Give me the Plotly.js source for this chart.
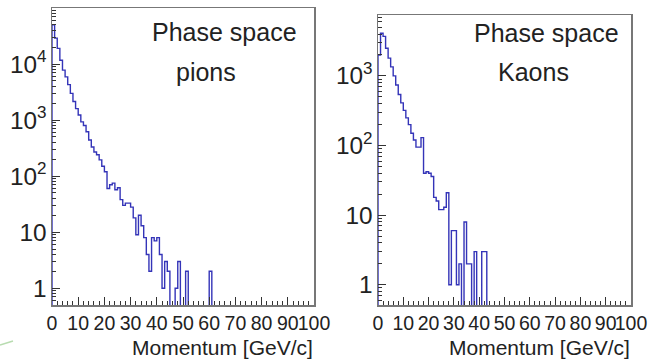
<!DOCTYPE html>
<html>
<head>
<meta charset="utf-8">
<script src="https://cdn.plot.ly/plotly-3.0.1.min.js"></script>
<style>html,body{margin:0;padding:0;background:#fff;}#chart{width:650px;height:361px;}</style>
</head>
<body>
<div id="chart"></div>
<script>
// Bin width 1 GeV/c, bins start at 0
var binWidth = 1;
var pionCounts = [50000, 29000, 19000, 11700, 7800, 5900, 4300, 3000, 2150, 1600,
  1230, 930, 800, 620, 440, 330, 270, 240, 195, 150,
  120, 60, 70, 75, 57, 62, 38, 30, 33, 33,
  28, 18, 9, 20, 13, 8, 4, 2, 8, 7,
  8, 4, 1, 3, 2, 0, 0, 1, 3, 0,
  0, 2, 0, 0, 0, 0, 0, 0, 0, 0,
  2, 0];
var kaonCounts = [2000, 4100, 3700, 2500, 1800, 1350, 1000, 740, 540, 410,
  320, 250, 200, 150, 120, 95, 95, 130, 40, 42,
  40, 36, 18, 16, 12, 12, 13, 21, 1, 6,
  6, 1, 2, 0, 8, 2, 2, 0, 3, 0,
  0, 3, 3, 0];
var xTickVals = [0, 10, 20, 30, 40, 50, 60, 70, 80, 90, 100];
var xTickText = ["0", "10", "20", "30", "40", "50", "60", "70", "80", "90", "100"];
var panelLabels = [["Phase space", "pions"], ["Phase space", "Kaons"]];
var xTitle = "Momentum [GeV/c]";

var W = 650, H = 361;
var FLOOR = 1e-3; // empty bins drawn below the axis floor (clipped)

function stepTrace(counts, xa, ya) {
  var xs = [0], ys = [FLOOR];
  for (var i = 0; i < counts.length; i++) {
    xs.push(i * binWidth);
    ys.push(counts[i] > 0 ? counts[i] : FLOOR);
  }
  xs.push(counts.length * binWidth);
  ys.push(FLOOR);
  return {
    x: xs, y: ys, type: 'scatter', mode: 'lines',
    line: {shape: 'hv', color: '#3434b8', width: 1.4},
    xaxis: xa, yaxis: ya, hoverinfo: 'skip', showlegend: false
  };
}

function px(x) { return x / W; }
function py(y) { return 1 - y / H; }

var font = {family: 'Liberation Sans, Arial, sans-serif', color: '#222'};

function xAxis(dom, anchor) {
  return {
    domain: dom, anchor: anchor, range: [0, 100],
    tickmode: 'array', tickvals: xTickVals, ticktext: xTickText, tickangle: 0,
    ticks: 'inside', ticklen: 8, tickwidth: 1, tickcolor: '#333',
    minor: {ticks: 'inside', dtick: 2, tick0: 0, ticklen: 4, tickwidth: 1, tickcolor: '#333'},
    showline: true, mirror: true, linecolor: '#777', linewidth: 1.5,
    showgrid: false, zeroline: false,
    tickfont: {family: font.family, size: 19.5, color: '#222'}
  };
}
function yAxis(dom, anchor, range) {
  return {
    domain: dom, anchor: anchor, type: 'log', range: range,
    dtick: 1, exponentformat: 'power',
    ticks: 'inside', ticklen: 8, tickwidth: 1, tickcolor: '#333',
    minor: {ticks: 'inside', dtick: 'D1', ticklen: 4, tickwidth: 1, tickcolor: '#333'},
    showline: true, mirror: true, linecolor: '#777', linewidth: 1.5,
    showgrid: false, zeroline: false,
    tickfont: {family: font.family, size: 19.5, color: '#222'}
  };
}

var data = [stepTrace(pionCounts, 'x', 'y'), stepTrace(kaonCounts, 'x2', 'y2')];

var annotations = [];
function label(text, xc, yb, size) {
  annotations.push({text: text, xref: 'paper', yref: 'paper', x: px(xc), y: py(yb),
    xanchor: 'center', yanchor: 'bottom', showarrow: false,
    font: {family: font.family, size: size, color: '#222'}});
}
label(panelLabels[0][0], 224, 48, 25);
label(panelLabels[0][1], 206, 88, 25);
label(panelLabels[1][0], 546, 49, 25);
label(panelLabels[1][1], 533, 88, 25);
[[314], [631]].forEach(function (p) {
  annotations.push({text: xTitle, xref: 'paper', yref: 'paper', x: px(p[0] + 1), y: py(361),
    xanchor: 'right', yanchor: 'bottom', showarrow: false,
    font: {family: font.family, size: 21, color: '#222'}});
});

var layout = {
  width: W, height: H,
  margin: {l: 0, r: 0, t: 0, b: 0},
  paper_bgcolor: '#fff', plot_bgcolor: '#fff',
  xaxis: xAxis([px(52), px(314)], 'y'),
  yaxis: yAxis([py(305), py(8)], 'x', [-0.3, 5.0]),
  xaxis2: xAxis([px(378), px(631)], 'y2'),
  yaxis2: yAxis([py(305), py(15)], 'x2', [-0.29, 3.875]),
  annotations: annotations,
  shapes: [{type: 'line', xref: 'paper', yref: 'paper', x0: px(0), y0: py(345), x1: px(13), y1: py(341),
    line: {color: '#b8dcb0', width: 1.5}}],
  showlegend: false
};

Plotly.newPlot('chart', data, layout, {displayModeBar: false, staticPlot: true});
</script>
</body>
</html>
